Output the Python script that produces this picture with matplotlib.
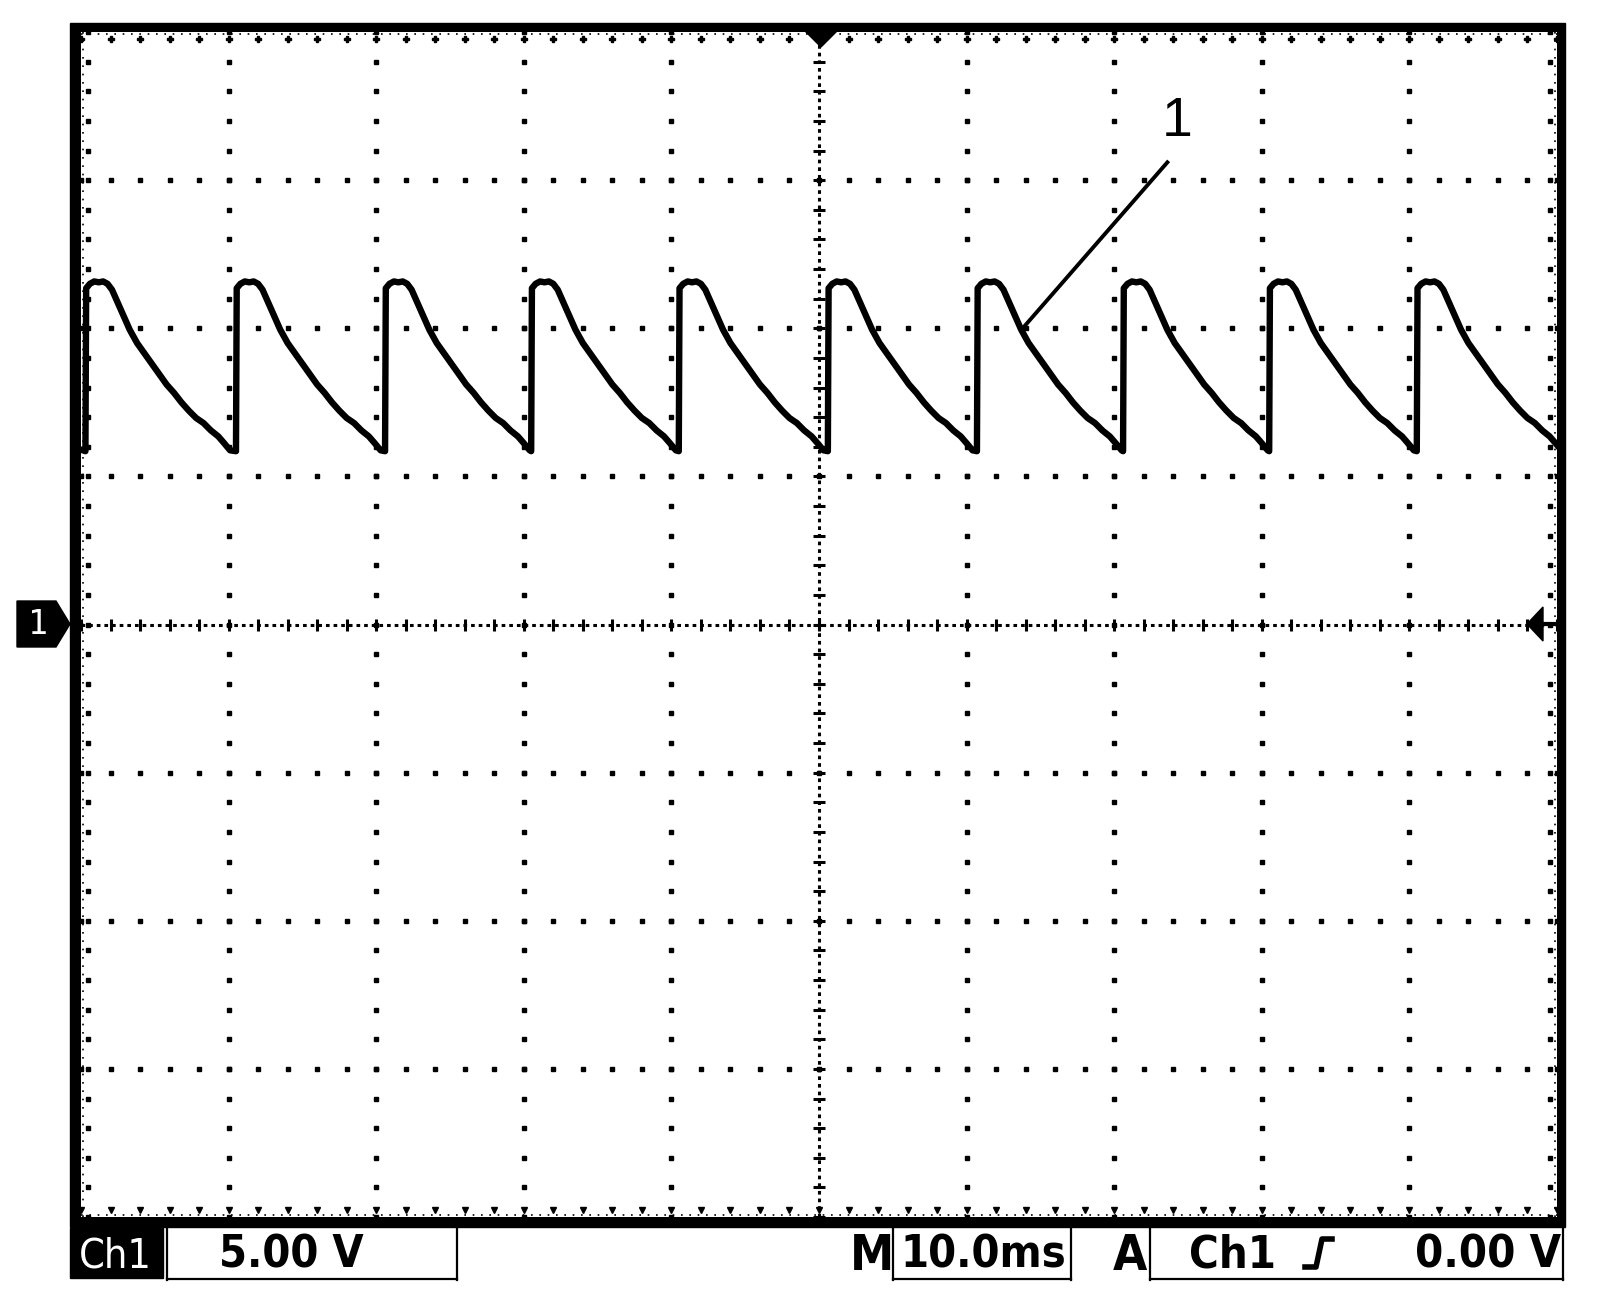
import numpy as np
import matplotlib
matplotlib.use("Agg")
import matplotlib.pyplot as plt
from matplotlib import font_manager
from matplotlib.font_manager import FontProperties
from matplotlib.patches import Rectangle, Polygon
from matplotlib.lines import Line2D

# scope settings (10 ms/div, 5 V/div, 10 x 8 divisions)
time_per_div = 10.0
volts_per_div = 5.0

# rising-edge times of each pulse (ms from left edge of screen)
rise_ms = [0.3, 10.5, 20.6, 30.5, 40.5, 50.6, 60.7, 70.6, 80.5, 90.5]

# one cycle of the trace (ms after rising edge, volts)
cycle_t = [0.0, 0.05, 0.3, 0.6, 0.9, 1.2, 1.5, 1.8, 2.2, 2.6, 3.0, 3.5, 4.0,
           4.5, 5.0, 5.5, 6.0, 6.5, 7.0, 7.5, 8.0, 8.5, 9.0, 9.4, 9.8]
cycle_v = [5.85, 11.35, 11.5, 11.58, 11.55, 11.58, 11.5, 11.3, 10.85, 10.4, 9.95,
           9.5, 9.15, 8.8, 8.45, 8.1, 7.82, 7.5, 7.22, 6.97, 6.8, 6.55, 6.35, 6.12, 5.88]
start_v = 5.9  # level before the first edge

# annotation "1"
label_text = "1"
label_xy = (74.3, 16.95)
leader_start = (73.6, 15.6)
leader_end = (63.8, 10.0)

# readout bar
ch_label = "Ch1"
volt_readout = "5.00 V"
time_readout = "10.0ms"
trig_source = "Ch1"
trig_level = "0.00 V"

W, H = 1600, 1314
fig = plt.figure(figsize=(W / 100, H / 100), dpi=100)
fig.patch.set_facecolor("white")

def fx(x):
    return x / W

def fy(y):
    return 1 - y / H

# look for a condensed / narrow face for the readout font
def find_narrow(bold):
    best = None
    for f in font_manager.fontManager.ttflist:
        nm = (f.name + " " + f.fname).lower()
        cond = ("narrow" in nm or "condensed" in nm or
                str(f.stretch) in ("condensed", "semi-condensed", "extra-condensed")
                or (isinstance(f.stretch, int) and f.stretch < 500))
        if not cond or "italic" in nm or "oblique" in nm or f.style != "normal":
            continue
        w = f.weight if isinstance(f.weight, int) else (700 if "bold" in str(f.weight) else 400)
        if bold != (w >= 600):
            continue
        score = 0 if "sans" in nm else 1
        if best is None or score < best[0]:
            best = (score, f.fname)
    return best[1] if best else None

nb = find_narrow(True)
nr = find_narrow(False)
fp_bold = FontProperties(fname=nb) if nb else FontProperties(family="DejaVu Sans", weight="bold")
fp_reg = FontProperties(fname=nr) if nr else FontProperties(family="DejaVu Sans")

# thick black bezel
fig.patches.append(Rectangle((fx(70), fy(1227)), fx(1565) - fx(70), fy(23) - fy(1227),
                             transform=fig.transFigure, color="black", zorder=-1))

L, R, T, B = 81, 1557, 32, 1217
ax = fig.add_axes([fx(L), fy(B), fx(R) - fx(L), fy(T) - fy(B)])
ax.set_facecolor("white")
xmax = 10 * time_per_div
ymax = 4 * volts_per_div
ax.set_xlim(0, xmax)
ax.set_ylim(-ymax, ymax)
for s in ax.spines.values():
    s.set_visible(False)
ax.set_xticks([])
ax.set_yticks([])

# graticule: dotted division lines
xs_minor = np.arange(0, xmax + 0.01, time_per_div / 5)
ys_minor = np.arange(-ymax, ymax + 0.01, volts_per_div / 5)
for gx in np.arange(time_per_div, xmax, time_per_div):
    if abs(gx - xmax / 2) < 1e-6:
        continue
    ax.plot(np.full_like(ys_minor, gx), ys_minor, ls="none", marker="s", ms=2.6, color="black")
for gy in np.arange(-ymax + volts_per_div, ymax, volts_per_div):
    if abs(gy) < 1e-6:
        continue
    ax.plot(xs_minor, np.full_like(xs_minor, gy), ls="none", marker="s", ms=2.6, color="black")

# center cross with minor ticks
ax.plot([0, xmax], [0, 0], color="black", lw=2.2, ls=(0, (1.2, 1.3)))
ax.plot([xmax / 2, xmax / 2], [-ymax, ymax], color="black", lw=2.2, ls=(0, (1.2, 1.3)))
ax.plot(xs_minor, np.zeros_like(xs_minor), ls="none", marker="|", ms=9, mew=2.2, color="black")
ax.plot(np.full_like(ys_minor, xmax / 2), ys_minor, ls="none", marker="_", ms=9, mew=2.2, color="black")

# edge ticks just inside the bezel
ex, ey = 0.45, 0.22
ax.plot(np.full_like(ys_minor, ex), ys_minor, ls="none", marker="s", ms=3.2, color="black")
ax.plot(np.full_like(ys_minor, xmax - ex), ys_minor, ls="none", marker="s", ms=3.2, color="black")
ax.plot(xs_minor, np.full_like(xs_minor, ymax - ey), ls="none", marker="P", ms=4.2, color="black")
ax.plot(xs_minor, np.full_like(xs_minor, -ymax + ey), ls="none", marker="v", ms=4.2, color="black")
ax.plot([0, xmax], [ymax - 0.08] * 2, color="black", lw=1.2, ls=(0, (1, 4)))
ax.plot([0, xmax], [-ymax + 0.08] * 2, color="black", lw=1.2, ls=(0, (1, 4)))
ax.plot([0.12] * 2, [-ymax, ymax], color="black", lw=1.2, ls=(0, (1, 4)))
ax.plot([xmax - 0.12] * 2, [-ymax, ymax], color="black", lw=1.2, ls=(0, (1, 4)))

# trace
tt = [0.0]
vv = [start_v]
for r in rise_ms:
    tt.extend([r + c for c in cycle_t])
    vv.extend(cycle_v)
ax.plot(tt, vv, color="black", lw=4.6, solid_joinstyle="round", zorder=5)

# annotation
ax.plot([leader_start[0], leader_end[0]], [leader_start[1], leader_end[1]],
        color="black", lw=2.8, zorder=6)
ax.text(label_xy[0], label_xy[1], label_text, fontsize=40, family="Liberation Sans",
        ha="center", va="center", zorder=6)

# trigger-position marker on top
fig.add_artist(Polygon([(fx(804), fy(30)), (fx(838), fy(30)), (fx(821), fy(47))],
                       closed=True, transform=fig.transFigure, color="black"))
# channel 1 ground marker on the left
cy = 624
fig.add_artist(Polygon([(fx(17), fy(cy - 23)), (fx(56), fy(cy - 23)), (fx(70), fy(cy)),
                        (fx(56), fy(cy + 23)), (fx(17), fy(cy + 23))],
                       closed=True, transform=fig.transFigure, color="black"))
fig.text(fx(38), fy(cy), "1", color="white", fontsize=24, family="DejaVu Sans Mono",
         ha="center", va="center")
# trigger level marker on the right
fig.add_artist(Polygon([(fx(1527), fy(cy)), (fx(1543), fy(cy - 17)), (fx(1543), fy(cy + 17))],
                       closed=True, transform=fig.transFigure, color="black"))
fig.add_artist(Line2D([fx(1540), fx(1558)], [fy(cy), fy(cy)], transform=fig.transFigure,
                      color="black", lw=3))

# readout bar
fig.patches.append(Rectangle((fx(70), fy(1278)), fx(163) - fx(70), fy(1228) - fy(1278),
                             transform=fig.transFigure, color="black"))

def box(x0, x1):
    for seg in ([(x0, 1227), (x0, 1280)], [(x0, 1279), (x1, 1279)], [(x1, 1227), (x1, 1280)]):
        fig.add_artist(Line2D([fx(p[0]) for p in seg], [fy(p[1]) for p in seg],
                              transform=fig.transFigure, color="black", lw=1.6))

box(167, 457)
box(893, 1071)
box(1150, 1563)

# readout texts: (text, left px, right px, top px, bottom px, font, colour, fit width)
readouts = [
    (ch_label, 77, 153, 1237, 1267, fp_reg, "white", True),
    (volt_readout, 219, 364, 1233, 1269, fp_bold, "black", True),
    ("M", 855, 888, 1233, 1269, fp_bold, "black", False),
    (time_readout, 900, 1066, 1233, 1269, fp_bold, "black", True),
    ("A", 1116, 1144, 1233, 1269, fp_bold, "black", False),
    (trig_source, 1189, 1276, 1233, 1269, fp_bold, "black", True),
    (trig_level, 1415, 1561, 1233, 1269, fp_bold, "black", True),
]
placed = []
for s, x0, x1, y0, y1, fp, col, fitw in readouts:
    t = fig.text(fx((x0 + x1) / 2), fy((y0 + y1) / 2), s, color=col, fontproperties=fp.copy(),
                 ha="center", va="center_baseline")
    t.set_fontsize(30)
    placed.append((t, x1 - x0, y1 - y0, fitw))

fig.canvas.draw()
r = fig.canvas.get_renderer()
for t, tw, th, fitw in placed:
    bb = t.get_window_extent(r)
    # cap height ~ 0.73 of font size in px; size by height, keep inside slot width
    size_h = th / 0.73 * 72 / 100
    size_w = 30 * tw / bb.width
    t.set_fontsize(min(size_h, size_w) if fitw else size_h)

# rising-edge trigger symbol
fig.add_artist(Line2D([fx(1305), fx(1316), fx(1322), fx(1332)],
                      [fy(1267), fy(1267), fy(1239), fy(1239)],
                      transform=fig.transFigure, color="black", lw=4))

fig.savefig("out.png", dpi=100)
